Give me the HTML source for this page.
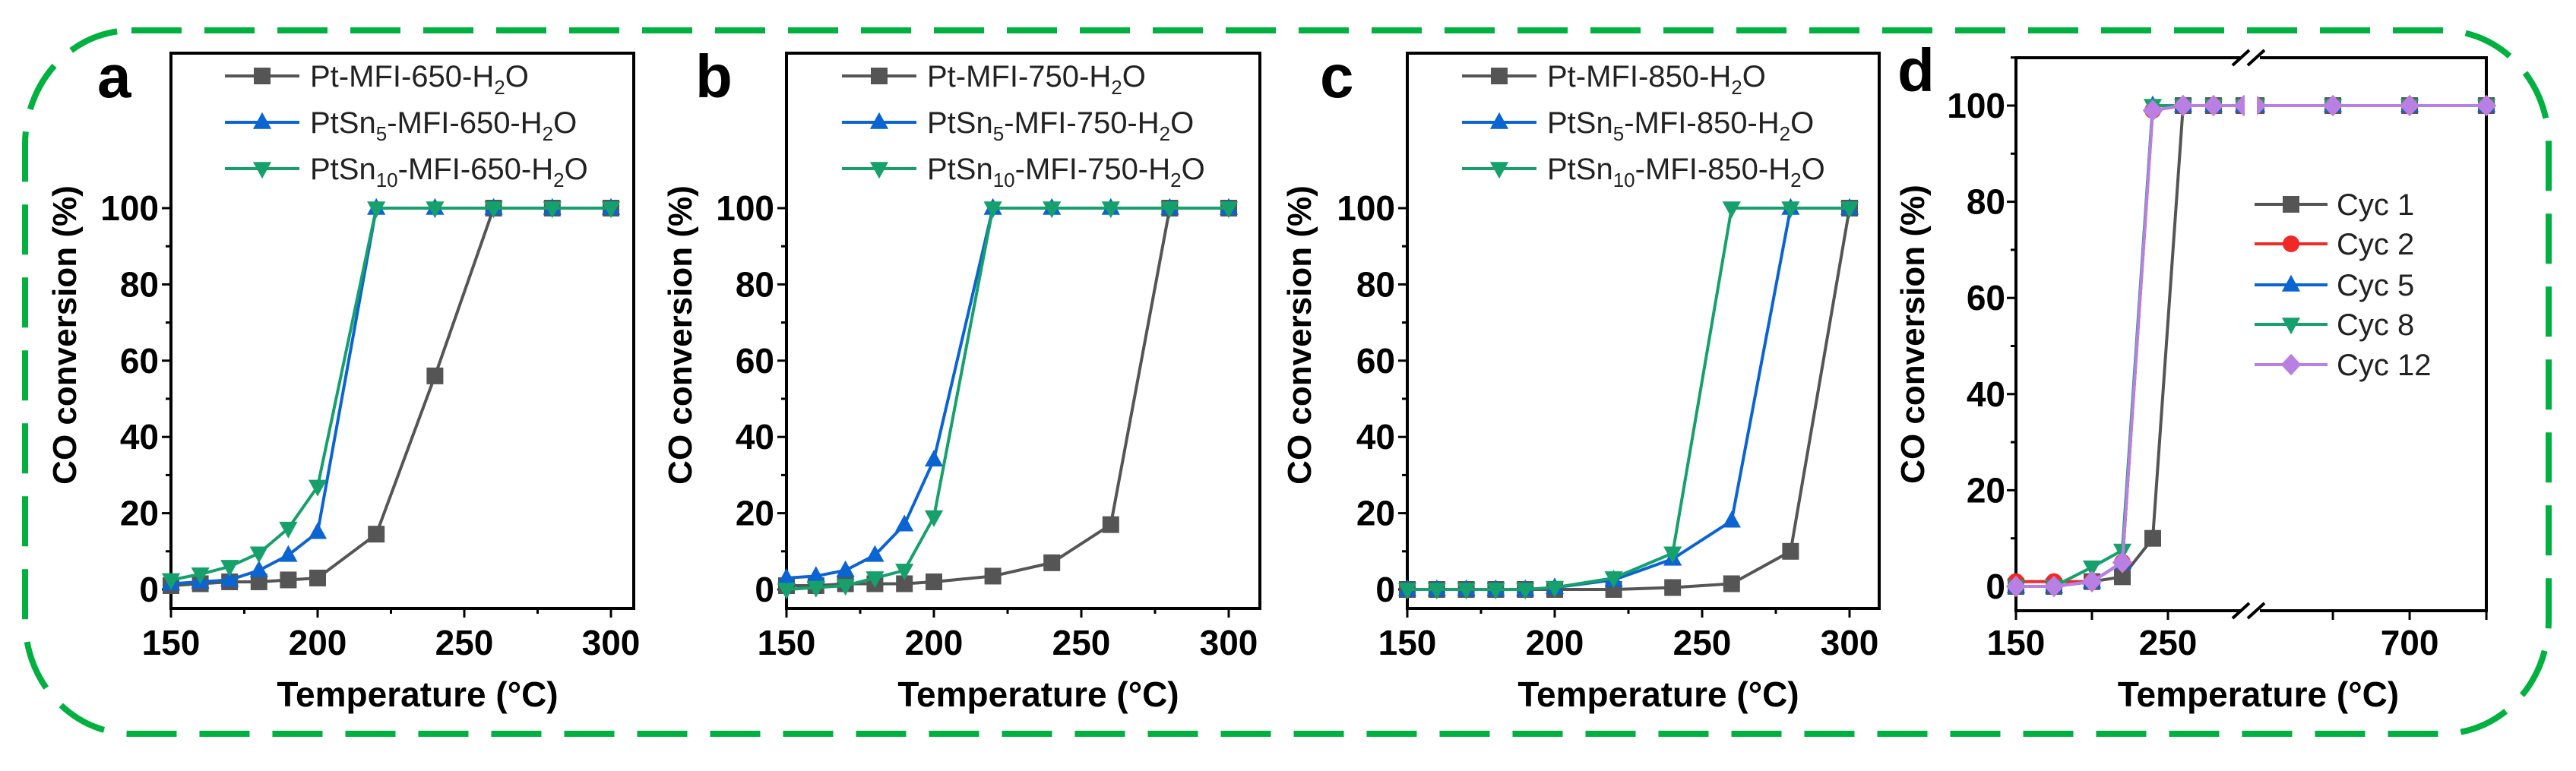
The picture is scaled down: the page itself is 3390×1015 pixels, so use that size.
<!DOCTYPE html>
<html><head><meta charset="utf-8"><style>
html,body{margin:0;padding:0;background:#fff;}
svg{display:block;}
text{font-family:"Liberation Sans",Arial,sans-serif;}
</style></head><body>
<svg id="fig" width="3390" height="1015" viewBox="0 0 3390 1015" xmlns="http://www.w3.org/2000/svg">
<rect x="33" y="40" width="3321" height="926" rx="140" ry="150" fill="none" stroke="#00b140" stroke-width="8" stroke-dasharray="66 30"/>
</svg>
<script>
// ---- data ----
const tempsABC = [150,160,170,180,190,200,220,240,260,280,300];
const aPt   = [1,1.5,2,2,2.5,3,14.5,56,100,100,100];
const aSn5  = [1.5,2,2.5,5,9,15,100,100,100,100,100];
const aSn10 = [2.5,4,6,9.5,16,27,100,100,100,100,100];
const bPt   = [1,1,1.5,1.5,1.5,2,3.5,7,17,100,100];
const bSn5  = [3,3.5,5,9,17,34,100,100,100,100,100];
const bSn10 = [0,0.5,1,3,5,19,100,100,100,100,100];
const cPt   = [0,0,0,0,0,0,0,0.5,1.5,10,100];
const cSn5  = [0,0,0,0,0,0.5,2.5,8,18,100,100];
const cSn10 = [0,0,0,0,0,0.5,3,9.5,100,100,100];
const tempsD = [150,175,200,220,240,260,280,300,500,600,700,800];
const cyc1  = [0,0,1,2,10,100,100,100,100,100,100,100];
const cyc2  = [1,1,1,5,99,100,100,100,100,100,100,100];
const cyc5  = [0,0,1,5,100,100,100,100,100,100,100,100];
const cyc8  = [0,0,4,7.5,100,100,100,100,100,100,100,100];
const cyc12 = [0,0,1,5,99,100,100,100,100,100,100,100];
const xTicksABC = [150,200,250,300];
const yTicksABC = [0,20,40,60,80,100];
const xTickLabelsD = [150,250,700];
const yTicksD = [0,20,40,60,80,100];

const NS = "http://www.w3.org/2000/svg";
const svg = document.getElementById('fig');
function mk(tag, attrs, parent){const e=document.createElementNS(NS,tag);for(const k in attrs)e.setAttribute(k,attrs[k]);(parent||svg).appendChild(e);return e;}

const GRAY="#555555", BLUE="#0a64d2", GREEN="#16a06c", RED="#f02828", VIOLET="#b97fe2";

function marker(g, shape, x, y, color, s){
  s = s||11;
  let e;
  if(shape==='sq') e=mk('rect',{x:x-s,y:y-s,width:2*s,height:2*s,fill:color},g);
  else if(shape==='up') e=mk('polygon',{points:`${x},${y-s*1.2} ${x-s*1.1},${y+s*0.8} ${x+s*1.1},${y+s*0.8}`,fill:color},g);
  else if(shape==='dn') e=mk('polygon',{points:`${x},${y+s*1.2} ${x-s*1.1},${y-s*0.8} ${x+s*1.1},${y-s*0.8}`,fill:color},g);
  else if(shape==='ci') e=mk('circle',{cx:x,cy:y,r:s,fill:color},g);
  else e=mk('polygon',{points:`${x},${y-s*1.3} ${x+s*1.2},${y} ${x},${y+s*1.3} ${x-s*1.2},${y}`,fill:color},g);
  
  
}

function series(g, xs, ys, sx, sy, color, shape, name){
  const sg = mk('g',{},g);
  
  
  const pts = xs.map((x,i)=>sx(x)+','+sy(ys[i])).join(' ');
  mk('polyline',{points:pts,fill:'none',stroke:color,'stroke-width':4},sg);
  xs.forEach((x,i)=>marker(sg,shape,sx(x),sy(ys[i]),color));
}

function panelABC(cfg){
  const g = mk('g',{});
  
  
  const L=cfg.left, R=cfg.right, T=70, B=801;
  const sx = v => L + (v-150)*cfg.pxPer;
  const sy = v => 776 - v*5.02;
  mk('rect',{x:L,y:T,width:R-L,height:B-T,fill:'none',stroke:'#000','stroke-width':4},g);
  // y ticks
  for(let v=0; v<=100; v+=10){
    const major = v%20===0;
    mk('line',{x1:L,x2:L-(major?12:7),y1:sy(v),y2:sy(v),stroke:'#000','stroke-width':3},g);
  }
  yTicksABC.forEach(v=>{
    const t=mk('text',{x:L-16,y:sy(v)+16,'text-anchor':'end','font-size':46,'font-weight':'bold'},g);
    t.textContent=v;
    
    
  });
  for(let v=150; v<=300; v+=25){
    const major = v%50===0;
    mk('line',{x1:sx(v),x2:sx(v),y1:B,y2:B+(major?12:7),stroke:'#000','stroke-width':3},g);
  }
  xTicksABC.forEach(v=>{
    const t=mk('text',{x:sx(v),y:862,'text-anchor':'middle','font-size':46,'font-weight':'bold'},g);
    t.textContent=v;
    
    
  });
  const xt=mk('text',{x:(L+R)/2+20,y:930,'text-anchor':'middle','font-size':46,'font-weight':'bold'},g);
  xt.textContent='Temperature (°C)';
  
  
  const yt=mk('text',{x:0,y:0,'text-anchor':'middle','font-size':44,'font-weight':'bold',transform:`translate(${cfg.ytx},441) rotate(-90)`},g);
  yt.textContent='CO conversion (%)';
  
  
  const lt=mk('text',{x:cfg.lx,y:128,'font-size':80,'font-weight':'bold','font-family':'Liberation Serif, serif'},g);
  lt.textContent=cfg.letter;
  
  
  series(g,tempsABC,cfg.pt,sx,sy,GRAY,'sq','series-pt');
  series(g,tempsABC,cfg.sn5,sx,sy,BLUE,'up','series-ptsn5');
  series(g,tempsABC,cfg.sn10,sx,sy,GREEN,'dn','series-ptsn10');
  // legend
  const names=[['Pt-MFI-'+cfg.T+'-H','2','O',GRAY,'sq',''],['PtSn','5','-MFI-'+cfg.T+'-H',BLUE,'up','2'],['PtSn','10','-MFI-'+cfg.T+'-H',GREEN,'dn','2']];
  const rows=[100,161,222];
  names.forEach((n,i)=>{
    const lg=mk('g',{},g);
    
    
    const y=rows[i];
    mk('line',{x1:cfg.legX,x2:cfg.legX+98,y1:y,y2:y,stroke:n[3],'stroke-width':4},lg);
    marker(lg,n[4],cfg.legX+49,y,n[3]);
    const t=mk('text',{x:cfg.legX+112,y:y+14,'font-size':40,fill:'#222'},lg);
    if(i===0){
      t.innerHTML=`${n[0]}<tspan font-size="26" dy="10">2</tspan><tspan dy="-10">O</tspan>`;
    } else {
      t.innerHTML=`${n[0]}<tspan font-size="26" dy="10">${n[1]}</tspan><tspan dy="-10">${n[2]}</tspan><tspan font-size="26" dy="10">2</tspan><tspan dy="-10">O</tspan>`;
    }
  });
}

panelABC({letter:'a',left:225,right:834,pxPer:193/50,ytx:100,lx:128,legX:296,T:650,pt:aPt,sn5:aSn5,sn10:aSn10});
panelABC({letter:'b',left:1035,right:1658,pxPer:194/50,ytx:910,lx:915,legX:1108,T:750,pt:bPt,sn5:bSn5,sn10:bSn10});
panelABC({letter:'c',left:1852,right:2473,pxPer:194/50,ytx:1725,lx:1737,legX:1924,T:850,pt:cPt,sn5:cSn5,sn10:cSn10});

// ---- panel d ----
(function(){
  const g = mk('g',{});
  
  
  const L=2653,R=3272,T=76,B=804,BRK=2962;
  const sx = v => v<=400 ? L+(v-150)*2.0 : BRK+(v-493)*1.01;
  const sy = v => 772 - v*6.33;
  mk('rect',{x:L,y:T,width:R-L,height:B-T,fill:'none',stroke:'#000','stroke-width':4},g);
  for(let v=0; v<=110; v+=10){
    const major=v%20===0;
    mk('line',{x1:L,x2:L-(major?12:7),y1:sy(v),y2:sy(v),stroke:'#000','stroke-width':3},g);
  }
  yTicksD.forEach(v=>{
    const t=mk('text',{x:L-14,y:sy(v)+16,'text-anchor':'end','font-size':46,'font-weight':'bold'},g);
    t.textContent=v;
    
    
  });
  [150,200,250,600,700,800].forEach(v=>{
    mk('line',{x1:sx(v),x2:sx(v),y1:B,y2:B+12,stroke:'#000','stroke-width':3},g);
  });
  xTickLabelsD.forEach(v=>{
    const t=mk('text',{x:sx(v),y:862,'text-anchor':'middle','font-size':46,'font-weight':'bold'},g);
    t.textContent=v;
    
    
  });
  const xt=mk('text',{x:2972,y:930,'text-anchor':'middle','font-size':46,'font-weight':'bold'},g);
  xt.textContent='Temperature (°C)';
  
  
  const yt=mk('text',{x:0,y:0,'text-anchor':'middle','font-size':44,'font-weight':'bold',transform:`translate(2532,440) rotate(-90)`},g);
  yt.textContent='CO conversion (%)';
  
  
  const lt=mk('text',{x:2497,y:120,'font-size':80,'font-weight':'bold','font-family':'Liberation Serif, serif'},g);
  lt.textContent='d';
  
  
  series(g,tempsD,cyc1,sx,sy,GRAY,'sq','series-cyc1');
  series(g,tempsD,cyc2,sx,sy,RED,'ci','series-cyc2');
  series(g,tempsD,cyc5,sx,sy,BLUE,'up','series-cyc5');
  series(g,tempsD,cyc8,sx,sy,GREEN,'dn','series-cyc8');
  series(g,tempsD,cyc12,sx,sy,VIOLET,'di','series-cyc12');
  // break gap
  mk('rect',{x:BRK-8,y:110,width:16,height:50,fill:'#fff'},g);
  [T,B].forEach(y=>{
    mk('rect',{x:BRK-12,y:y-4,width:24,height:8,fill:'#fff'},g);
    mk('line',{x1:BRK-24,y1:y+10,x2:BRK-2,y2:y-10,stroke:'#000','stroke-width':4},g);
    mk('line',{x1:BRK-4,y1:y+10,x2:BRK+18,y2:y-10,stroke:'#000','stroke-width':4},g);
  });
  const leg=[['Cyc 1',GRAY,'sq'],['Cyc 2',RED,'ci'],['Cyc 5',BLUE,'up'],['Cyc 8',GREEN,'dn'],['Cyc 12',VIOLET,'di']];
  const rows=[269,321,375,427,480];
  leg.forEach((n,i)=>{
    const lg=mk('g',{},g);
    
    
    const y=rows[i];
    mk('line',{x1:2967,x2:3063,y1:y,y2:y,stroke:n[1],'stroke-width':4},lg);
    marker(lg,n[2],3015,y,n[1]);
    const t=mk('text',{x:3075,y:y+14,'font-size':40,fill:'#222'},lg);
    t.textContent=n[0];
  });
})();
</script>
</body></html>
